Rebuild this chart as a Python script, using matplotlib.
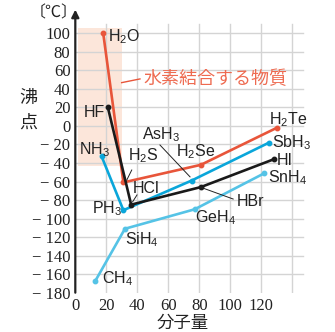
import matplotlib
matplotlib.use("Agg")
import matplotlib.pyplot as plt
from matplotlib.patches import Rectangle

# ---- data ----
mw14 = [13, 32, 77, 122]; bp14 = [-167, -111, -90, -51]   # CH4 SiH4 GeH4 SnH4
mw15 = [17, 31, 75, 125]; bp15 = [-33, -91, -59, -18]     # NH3 PH3 AsH3 SbH3
mw16 = [18, 31, 81, 130]; bp16 = [100, -61, -42, -2]      # H2O H2S H2Se H2Te
mw17 = [21, 36, 81, 128]; bp17 = [20, -85, -66, -36]      # HF HCl HBr HI
yticks = list(range(-180, 101, 20))
xticks = list(range(0, 121, 20))

C16 = "#E8553A"
C17 = "#1a1a1a"
C15 = "#0AA6DA"
C14 = "#55C3E6"
PINK = "#FCE6DA"
GRID = "#d4d4d4"

plt.rcParams['font.family'] = ['Liberation Sans', 'DejaVu Sans']
plt.rcParams['mathtext.fontset'] = 'custom'
plt.rcParams['mathtext.rm'] = 'Liberation Sans'

fig = plt.figure(figsize=(3.35, 3.32), dpi=100)
ax = fig.add_axes([0.2248, 0.1184, 0.6896, 0.8512])
ax.set_xlim(0, 149)
ax.set_ylim(-180, 125)
for s in ax.spines.values():
    s.set_visible(False)

# grid
for y in yticks[1:]:
    ax.plot([0, 146.7], [y, y], color=GRID, lw=1.0, zorder=1)
for x in range(20, 141, 20):
    ax.plot([x, x], [-180, 110], color=GRID, lw=1.0, zorder=1)

# pink region
ax.add_patch(Rectangle((1.7, -43.2), 28.4, 149, color=PINK, lw=0, zorder=0.5))

# axes arrows
ax.annotate("", xy=(149.5, -180), xytext=(0, -180),
            arrowprops=dict(arrowstyle="-|>", color="#222222", lw=1.6,
                            mutation_scale=11, shrinkA=0, shrinkB=0), zorder=5)
ax.annotate("", xy=(0, 125.5), xytext=(0, -180),
            arrowprops=dict(arrowstyle="-|>", color="#222222", lw=1.6,
                            mutation_scale=11, shrinkA=0, shrinkB=0), zorder=5)

# series
for xs, ys, c in [(mw14, bp14, C14), (mw15, bp15, C15), (mw16, bp16, C16), (mw17, bp17, C17)]:
    ax.plot(xs, ys, color=c, lw=1.9, marker='o', ms=3.2, zorder=4, solid_joinstyle='miter')

# ticks
ax.set_yticks(yticks)
ax.set_yticklabels([("\u2212 %d" % -v) if v < 0 else str(v) for v in yticks],
                   fontfamily='Liberation Serif', fontsize=12)
ax.set_xticks(xticks)
ax.set_xticklabels([str(v) for v in xticks], fontfamily='Liberation Serif', fontsize=12)
ax.tick_params(length=0, pad=3.5, colors='#222222')

# labels
fs = 11.5
def lab(x, y, s, ha='left'):
    ax.text(x, y, s, fontsize=fs, ha=ha, va='center', color='#222222', zorder=6)

lab(21.1, 96, r'H$\mathregular{_2}$O')
lab(19.2, 14, 'HF', ha='right')
lab(12.4, -26, r'NH$\mathregular{_3}$', ha='center')
lab(34, -32.5, r'H$\mathregular{_2}$S')
lab(42.8, -9.8, r'AsH$\mathregular{_3}$')
lab(65, -28, r'H$\mathregular{_2}$Se')
lab(37, -68, 'HCl')
lab(10.6, -89.7, r'PH$\mathregular{_3}$')
lab(32, -123, r'SiH$\mathregular{_4}$')
lab(17, -165, r'CH$\mathregular{_4}$')
lab(77.2, -99, r'GeH$\mathregular{_4}$')
lab(104.3, -81.8, 'HBr')
lab(125, 6.4, r'H$\mathregular{_2}$Te')
lab(127, -18.4, r'SbH$\mathregular{_3}$')
lab(130, -37.8, 'HI')
lab(124.3, -55.9, r'SnH$\mathregular{_4}$')

# leader lines
for (x1, y1, x2, y2) in [(36.4, -47.6, 33.2, -58.4), (54.6, -20.6, 74, -55),
                         (39.8, -74.5, 37, -81.8), (80.5, -66, 101.8, -78.9)]:
    ax.plot([x1, x2], [y1, y2], color='#222222', lw=0.7, zorder=5)
ax.plot([29.9, 41.7], [46.7, 50.7], color=C16, lw=1.0, zorder=5)
ax.text(43.7, 50.7, '水素結合する物質', fontsize=13, color='#EE6A50', va='center', ha='left',
        fontfamily=['Noto Sans CJK JP', 'DejaVu Sans'], zorder=6)

# axis titles
cjk = ['Noto Sans CJK JP', 'DejaVu Sans']
fig.text(54 / 335, 1 - 13 / 332, '〔℃〕', fontsize=11.5, ha='center', va='center', fontfamily=cjk, color='#222222')
fig.text(28 / 335, 1 - 98 / 332, '沸', fontsize=13, ha='center', va='center', fontfamily=cjk, color='#222222')
fig.text(28 / 335, 1 - 123 / 332, '点', fontsize=13, ha='center', va='center', fontfamily=cjk, color='#222222')
fig.text(183 / 335, 1 - 323 / 332, '分子量', fontsize=12.5, ha='center', va='center', fontfamily=cjk, color='#222222')

fig.savefig('out.png', dpi=100)
